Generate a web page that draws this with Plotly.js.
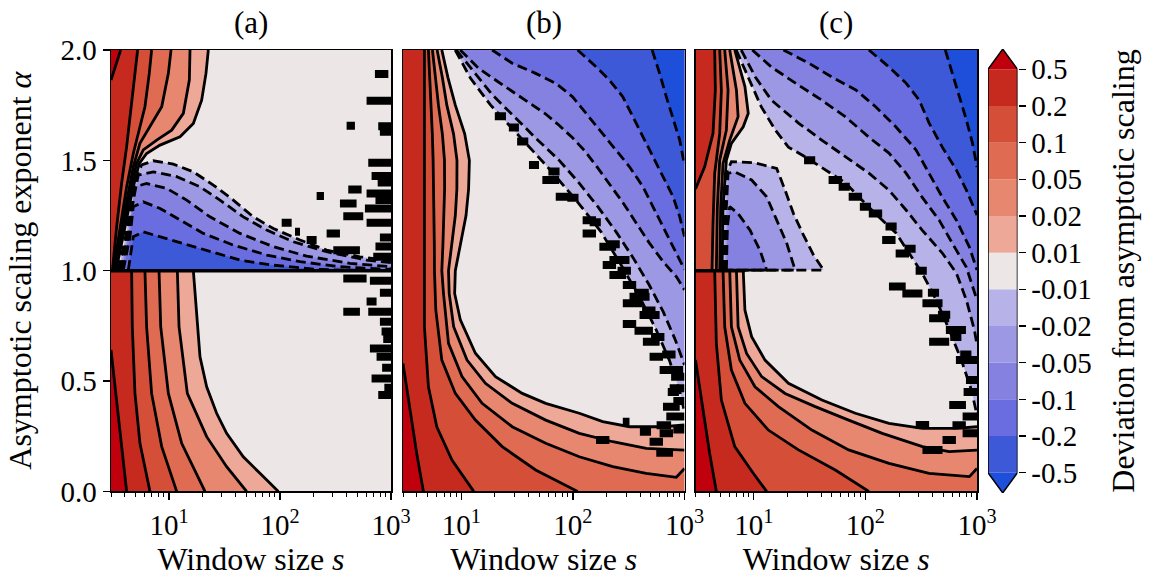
<!DOCTYPE html>
<html>
<head>
<meta charset="utf-8">
<script src="https://cdn.plot.ly/plotly-3.0.1.min.js"></script>
<style>
  html, body { margin: 0; padding: 0; background: #ffffff; }
  #chart { width: 1156px; height: 581px; }
</style>
</head>
<body>
<div id="chart"></div>
<script>
// Deviation from asymptotic scaling over window size s and exponent alpha.
// Contour vertices are stored as [log10 s, alpha].

// ---- colour levels ----
const levelLabels = ['-0.5', '-0.2', '-0.1', '-0.05', '-0.02', '-0.01', '0.01', '0.02', '0.05', '0.1', '0.2', '0.5'];
const posColors = ['#eda897', '#e8876f', '#e06b53', '#d54f38', '#c6291e', '#c0000c']; // beyond +0.01 ... beyond +0.5
const negColors = ['#b7b3e8', '#9c98e3', '#8481e0', '#6a6ddf', '#3e59d8', '#1d4fdb']; // beyond -0.01 ... beyond -0.5
const neutralColor = '#ece6e7';

// ---- panel (a) ----
const aUp001 = [[1.354,2.0],[1.333,1.894],[1.294,1.773],[1.219,1.667],[1.099,1.607],[0.919,1.569],[0.798,1.531],[0.732,1.486],[0.678,1.380],[0.618,1.229],[0.564,1.093],[0.522,1.0]];
const aUp002 = [[1.189,2.0],[1.183,1.864],[1.129,1.713],[1.024,1.637],[0.889,1.592],[0.768,1.547],[0.708,1.486],[0.654,1.365],[0.594,1.199],[0.543,1.078],[0.510,1.0]];
const aUp005 = [[1.018,2.0],[0.994,1.894],[0.934,1.743],[0.828,1.652],[0.738,1.577],[0.678,1.471],[0.618,1.320],[0.552,1.139],[0.505,1.0]];
const aUp01  = [[0.843,2.0],[0.822,1.894],[0.783,1.743],[0.723,1.622],[0.678,1.531],[0.618,1.380],[0.558,1.199],[0.498,1.0]];
const aUp02  = [[0.717,2.0],[0.693,1.894],[0.663,1.743],[0.618,1.562],[0.573,1.396],[0.528,1.199],[0.490,1.0]];
const aUp05  = [[0.564,2.0],[0.528,1.939],[0.477,1.864]];

const aLo001 = [[1.219,1.0],[1.234,0.897],[1.255,0.746],[1.279,0.610],[1.339,0.474],[1.429,0.354],[1.519,0.263],[1.669,0.157],[1.819,0.082],[1.985,0.0]];
const aLo002 = [[1.075,1.0],[1.090,0.746],[1.165,0.444],[1.339,0.248],[1.519,0.112],[1.699,0.0]];
const aLo005 = [[0.910,1.0],[0.925,0.746],[0.994,0.444],[1.114,0.218],[1.324,0.0]];
const aLo01  = [[0.783,1.0],[0.798,0.746],[0.843,0.444],[0.934,0.203],[1.069,0.0]];
const aLo02  = [[0.663,1.0],[0.669,0.746],[0.693,0.444],[0.738,0.218],[0.828,0.0]];
const aLo05  = [[0.477,0.641],[0.528,0.414],[0.573,0.203],[0.618,0.0]];

const aNeg001 = [[0.543,1.003],[0.603,1.139],[0.663,1.305],[0.708,1.426],[0.753,1.479],[0.858,1.498],[1.039,1.483],[1.219,1.448],[1.399,1.388],[1.579,1.320],[1.759,1.244],[1.940,1.191],[2.180,1.139],[2.420,1.093],[2.720,1.063],[3.0,1.045],[3.0,1.0]];
const aNeg002 = [[0.558,1.003],[0.618,1.139],[0.678,1.320],[0.723,1.433],[0.858,1.448],[1.069,1.426],[1.279,1.380],[1.459,1.320],[1.669,1.244],[1.880,1.184],[2.120,1.131],[2.420,1.086],[2.780,1.048],[3.0,1.036],[3.0,1.0]];
const aNeg005 = [[0.573,1.003],[0.633,1.154],[0.693,1.380],[0.798,1.395],[0.979,1.373],[1.159,1.320],[1.369,1.244],[1.639,1.169],[1.940,1.109],[2.240,1.066],[2.630,1.033],[3.0,1.018],[3.0,1.0]];
const aNeg01  = [[0.588,1.003],[0.648,1.154],[0.678,1.290],[0.768,1.312],[0.919,1.282],[1.099,1.229],[1.309,1.169],[1.579,1.116],[1.880,1.071],[2.180,1.041],[2.540,1.018],[3.0,1.006],[3.0,1.0]];
const aNeg02  = [[0.633,1.003],[0.678,1.154],[0.768,1.176],[0.919,1.154],[1.129,1.124],[1.369,1.086],[1.639,1.048],[1.940,1.025],[2.330,1.006],[2.780,1.0]];
const aSeam = [[0.477,1.0],[3.0,1.0]];

// isolated islands near the noise floor: [log10 s start, log10 s end, alpha]
const aSpeckles = [[2.855,2.976,1.891],[2.780,3.0,1.770],[2.600,2.675,1.657],[2.885,3.0,1.655],[2.900,3.0,1.630],[2.795,3.0,1.489],[2.825,3.0,1.429],[2.615,2.735,1.368],[2.780,3.0,1.350],[2.330,2.396,1.338],[2.540,2.690,1.305],[2.765,3.0,1.282],[2.570,2.750,1.247],[2.780,3.0,1.217],[2.420,2.540,1.169],[2.135,2.180,1.176],[2.015,2.105,1.217],[2.240,2.330,1.139],[2.480,2.720,1.093],[2.840,3.0,1.063],[2.880,3.0,1.40],[2.860,3.0,1.32],[2.900,3.0,1.15],[2.860,3.0,1.11],[2.570,2.780,0.965],[2.810,3.0,0.955],[2.900,3.0,0.900],[2.780,2.870,0.860],[2.570,2.720,0.814],[2.795,3.0,0.814],[2.900,3.0,0.769],[2.915,3.0,0.724],[2.930,3.0,0.690],[2.810,3.0,0.648],[2.870,3.0,0.610],[2.920,3.0,0.560],[2.825,3.0,0.512],[2.885,3.0,0.437],[2.940,3.0,0.470]];

// ---- panel (b) ----
const bPos001 = [[0.825,2.0],[0.880,1.875],[0.946,1.75],[1.030,1.62],[1.072,1.5],[1.065,1.37],[1.042,1.25],[0.990,1.12],[0.946,1.0],[0.940,0.897],[0.991,0.777],[1.126,0.626],[1.306,0.520],[1.546,0.444],[1.756,0.399],[2.057,0.354],[2.267,0.316],[2.507,0.293],[2.807,0.293],[3.0,0.301]];
const bPos002 = [[0.783,2.0],[0.830,1.875],[0.870,1.75],[0.930,1.62],[0.961,1.5],[0.960,1.37],[0.946,1.25],[0.915,1.12],[0.885,1.0],[0.891,0.897],[0.931,0.746],[1.051,0.595],[1.216,0.490],[1.456,0.399],[1.756,0.323],[2.057,0.263],[2.357,0.225],[2.657,0.195],[3.0,0.187]];
const bPos005 = [[0.741,2.0],[0.768,1.875],[0.795,1.75],[0.830,1.62],[0.849,1.5],[0.850,1.37],[0.846,1.25],[0.835,1.12],[0.825,1.0],[0.840,0.897],[0.885,0.671],[1.006,0.520],[1.186,0.399],[1.456,0.293],[1.756,0.218],[2.057,0.157],[2.357,0.112],[2.657,0.082],[2.927,0.064],[3.0,0.104]];
const bPos01  = [[0.705,2.0],[0.718,1.875],[0.729,1.75],[0.740,1.62],[0.747,1.5],[0.752,1.37],[0.756,1.25],[0.758,1.12],[0.759,1.0],[0.771,0.822],[0.825,0.595],[0.946,0.444],[1.126,0.323],[1.366,0.203],[1.666,0.097],[2.042,0.0]];
const bPos02  = [[0.669,2.0],[0.669,1.592],[0.663,1.139],[0.663,1.0],[0.669,0.746],[0.705,0.474],[0.780,0.293],[0.916,0.142],[1.111,0.0]];
const bPos05  = [[0.477,0.580],[0.540,0.369],[0.600,0.172],[0.660,0.0]];

const bNeg001 = [[0.945,2.0],[1.081,1.873],[1.261,1.751],[1.486,1.629],[1.757,1.479],[2.027,1.321],[2.252,1.176],[2.432,1.026],[2.612,0.867],[2.747,0.731],[2.864,0.595],[2.955,0.459],[3.0,0.360]];
const bNeg002 = [[0.955,2.0],[1.099,1.909],[1.279,1.796],[1.459,1.706],[1.666,1.601],[1.873,1.502],[2.054,1.398],[2.225,1.289],[2.387,1.176],[2.540,1.058],[2.684,0.935],[2.810,0.813],[2.918,0.686],[3.0,0.573]];
const bNeg005 = [[0.990,2.0],[1.153,1.918],[1.306,1.864],[1.459,1.810],[1.621,1.756],[1.756,1.710],[1.873,1.660],[1.999,1.601],[2.108,1.542],[2.216,1.470],[2.324,1.393],[2.450,1.307],[2.567,1.216],[2.684,1.126],[2.810,1.040],[2.928,0.972],[3.0,0.913]];
const bNeg01  = [[1.276,2.0],[1.456,1.940],[1.666,1.894],[1.846,1.849],[1.997,1.788],[2.117,1.713],[2.267,1.623],[2.387,1.547],[2.507,1.471],[2.627,1.381],[2.718,1.290],[2.808,1.199],[2.898,1.109],[2.988,1.018],[3.0,1.005]];
const bNeg02  = [[2.042,2.0],[2.207,1.924],[2.327,1.864],[2.447,1.788],[2.537,1.698],[2.627,1.607],[2.718,1.517],[2.808,1.426],[2.898,1.335],[2.957,1.245],[3.0,1.154]];
const bNeg05  = [[2.710,2.0],[2.777,1.894],[2.837,1.788],[2.898,1.683],[2.957,1.592],[3.0,1.479]];

const bSpeckles = [[1.300,1.400,1.700],[1.426,1.516,1.649],[1.500,1.600,1.585],[1.606,1.696,1.479],[1.726,1.876,1.411],[1.780,1.880,1.450],[1.846,1.966,1.335],[1.950,2.050,1.330],[2.087,2.207,1.229],[2.150,2.250,1.220],[2.087,2.207,1.169],[2.300,2.420,1.120],[2.237,2.387,1.108],[2.327,2.507,1.048],[2.400,2.520,1.000],[2.267,2.387,1.026],[2.327,2.477,0.980],[2.447,2.567,0.935],[2.550,2.680,0.900],[2.507,2.687,0.882],[2.447,2.627,0.852],[2.620,2.740,0.820],[2.597,2.777,0.799],[2.447,2.567,0.758],[2.552,2.717,0.728],[2.700,2.820,0.700],[2.627,2.777,0.678],[2.800,2.920,0.620],[2.687,2.807,0.610],[2.777,2.987,0.550],[2.880,3.0,0.520],[2.867,3.0,0.467],[2.850,2.950,0.450],[2.900,3.0,0.410],[2.807,2.957,0.384],[2.837,3.0,0.339],[2.750,2.880,0.300],[2.900,3.0,0.280],[2.600,2.700,0.270],[2.777,2.897,0.263],[2.687,2.807,0.225],[2.747,2.897,0.175],[2.207,2.327,0.233],[2.447,2.507,0.316]];

// ---- panel (c) ----
const cUp001 = [[0.829,2.0],[0.920,1.834],[0.950,1.713],[0.905,1.652],[0.799,1.577],[0.754,1.501],[0.724,1.290],[0.715,1.0]];
const cUp002 = [[0.784,2.0],[0.844,1.818],[0.859,1.698],[0.784,1.592],[0.724,1.486],[0.703,1.290],[0.694,1.0]];
const cUp005 = [[0.739,2.0],[0.769,1.818],[0.754,1.637],[0.694,1.501],[0.673,1.290],[0.664,1.0]];
const cUp01  = [[0.694,2.0],[0.709,1.818],[0.694,1.622],[0.649,1.441],[0.634,1.214],[0.625,1.0]];
const cUp02  = [[0.649,2.0],[0.655,1.818],[0.634,1.622],[0.559,1.471],[0.477,1.370]];

const cLo001 = [[0.905,1.0],[0.920,0.822],[0.980,0.701],[1.100,0.595],[1.310,0.490],[1.610,0.414],[1.910,0.354],[2.211,0.308],[2.511,0.286],[2.811,0.286],[3.0,0.293]];
const cLo002 = [[0.844,1.0],[0.859,0.746],[0.935,0.625],[1.070,0.520],[1.280,0.444],[1.550,0.384],[1.850,0.323],[2.151,0.263],[2.511,0.203],[2.751,0.180],[3.0,0.187]];
const cLo005 = [[0.784,1.0],[0.799,0.746],[0.874,0.595],[1.010,0.474],[1.220,0.384],[1.520,0.278],[1.850,0.188],[2.211,0.127],[2.571,0.082],[2.932,0.067],[3.0,0.104]];
const cLo01  = [[0.724,1.0],[0.739,0.746],[0.799,0.550],[0.920,0.399],[1.130,0.278],[1.400,0.188],[1.730,0.097],[2.031,0.0]];
const cLo02  = [[0.649,1.0],[0.664,0.671],[0.709,0.414],[0.829,0.203],[0.995,0.082],[1.115,0.0]];
const cLo05  = [[0.477,0.595],[0.544,0.369],[0.604,0.172],[0.664,0.0]];

const cLobe001 = [[0.724,1.003],[0.739,1.290],[0.754,1.441],[0.799,1.494],[1.010,1.489],[1.205,1.463],[1.280,1.365],[1.355,1.259],[1.445,1.161],[1.535,1.071],[1.625,1.003]];
const cLobe002 = [[0.739,1.003],[0.754,1.290],[0.769,1.441],[0.829,1.448],[0.980,1.411],[1.115,1.335],[1.205,1.229],[1.295,1.124],[1.370,1.003]];
const cLobe005 = [[0.754,1.003],[0.763,1.199],[0.784,1.290],[0.859,1.259],[0.965,1.184],[1.055,1.093],[1.115,1.003]];
const cSeam = [[0.477,1.0],[0.920,1.0]];

const cNeg001 = [[0.842,2.0],[0.950,1.878],[1.067,1.742],[1.193,1.637],[1.310,1.560],[1.463,1.515],[1.643,1.456],[1.824,1.397],[1.968,1.320],[2.121,1.243],[2.274,1.171],[2.391,1.080],[2.508,0.989],[2.635,0.867],[2.752,0.731],[2.860,0.595],[2.950,0.459],[3.0,0.346]];
const cNeg002 = [[0.887,2.0],[1.013,1.878],[1.157,1.773],[1.400,1.669],[1.608,1.592],[1.824,1.515],[2.031,1.442],[2.211,1.365],[2.364,1.275],[2.508,1.184],[2.689,1.080],[2.815,0.989],[2.905,0.867],[2.977,0.731],[3.0,0.663]];
const cNeg005 = [[0.986,2.0],[1.157,1.923],[1.373,1.850],[1.608,1.773],[1.824,1.696],[2.031,1.605],[2.211,1.533],[2.364,1.442],[2.508,1.333],[2.661,1.229],[2.779,1.124],[2.905,1.015],[3.0,0.867]];
const cNeg01  = [[1.265,2.0],[1.490,1.941],[1.697,1.878],[1.914,1.819],[2.094,1.742],[2.274,1.651],[2.454,1.547],[2.572,1.442],[2.689,1.333],[2.815,1.229],[2.932,1.107],[3.0,1.003]];
const cNeg02  = [[2.031,2.0],[2.211,1.923],[2.364,1.850],[2.482,1.773],[2.571,1.669],[2.689,1.560],[2.815,1.456],[2.905,1.365],[3.0,1.252]];
const cNeg05  = [[2.716,2.0],[2.779,1.896],[2.842,1.787],[2.905,1.683],[2.959,1.579],[3.0,1.470]];

const cSpeckles = [[1.450,1.550,1.500],[1.670,1.790,1.411],[1.760,1.860,1.380],[1.850,1.970,1.335],[1.950,2.050,1.290],[2.030,2.150,1.259],[2.150,2.270,1.139],[2.180,2.280,1.200],[2.271,2.391,1.078],[2.350,2.450,1.100],[2.211,2.361,0.928],[2.450,2.550,1.000],[2.331,2.511,0.897],[2.511,2.691,0.852],[2.560,2.660,0.900],[2.571,2.751,0.784],[2.650,2.760,0.800],[2.571,2.751,0.678],[2.721,2.901,0.731],[2.760,2.860,0.700],[2.811,3.0,0.595],[2.850,2.950,0.620],[2.901,3.0,0.505],[2.880,3.0,0.450],[2.751,2.901,0.391],[2.871,3.0,0.339],[2.451,2.571,0.301],[2.691,2.811,0.233],[2.511,2.691,0.188],[2.871,3.0,0.263],[2.780,2.900,0.300]];

// ---- axes ----
const L = Math.log10(3), R = 3;           // log10 of the window-size range
const majorTicks = [10, 100, 1000];
const majorText = ['10<sup>1</sup>', '10<sup>2</sup>', '10<sup>3</sup>'];
const minorTicks = [3,4,5,6,7,8,9,20,30,40,50,60,70,80,90,200,300,400,500,600,700,800,900];
const alphaTicks = [0, 0.5, 1.0, 1.5, 2.0];
const panelTitles = ['(a)', '(b)', '(c)'];

const FONT = 'Liberation Serif, Times New Roman, serif';
const traces = [];
const AX = { a: ['x', 'y'], b: ['x2', 'y2'], c: ['x3', 'y3'] };

function xs(pts) { return pts.map(p => Math.pow(10, p[0])); }
function ys(pts) { return pts.map(p => p[1]); }

function addFill(panel, pts, color) {
  traces.push({
    type: 'scatter', mode: 'lines', x: xs(pts), y: ys(pts),
    xaxis: AX[panel][0], yaxis: AX[panel][1],
    fill: 'toself', fillcolor: color, line: { width: 0, color: color },
    hoverinfo: 'skip', showlegend: false
  });
}
function addLine(panel, pts, dashed, width) {
  traces.push({
    type: 'scatter', mode: 'lines', x: xs(pts), y: ys(pts),
    xaxis: AX[panel][0], yaxis: AX[panel][1],
    line: { color: '#000000', width: width || 2.8, dash: dashed ? '10px,5px' : 'solid' },
    hoverinfo: 'skip', showlegend: false
  });
}
function addSpeckles(panel, list) {
  const x = [], y = [];
  list.forEach(([s0, s1, a]) => { x.push(Math.pow(10, s0), Math.pow(10, s1), null); y.push(a, a, null); });
  traces.push({
    type: 'scatter', mode: 'lines', x: x, y: y, connectgaps: false,
    xaxis: AX[panel][0], yaxis: AX[panel][1],
    line: { color: '#000000', width: 8 }, hoverinfo: 'skip', showlegend: false
  });
}

// panel (a)
addFill('a', [[L,0],[R,0],[R,2],[L,2]], neutralColor);
[aUp001, aUp002, aUp005, aUp01, aUp02].forEach((c, i) => addFill('a', c.concat([[L,1],[L,2]]), posColors[i]));
addFill('a', aUp05.concat([[L,2]]), posColors[5]);
[aLo001, aLo002, aLo005, aLo01, aLo02].forEach((c, i) => addFill('a', c.concat([[L,0],[L,1]]), posColors[i]));
addFill('a', aLo05.concat([[L,0]]), posColors[5]);
[aNeg001, aNeg002, aNeg005, aNeg01, aNeg02].forEach((c, i) => addFill('a', c, negColors[i]));
[aUp001, aUp002, aUp005, aUp01, aUp02, aUp05, aLo001, aLo002, aLo005, aLo01, aLo02, aLo05].forEach(c => addLine('a', c, false));
[aNeg001, aNeg002, aNeg005, aNeg01, aNeg02].forEach(c => addLine('a', c, true));
addLine('a', aSeam, false, 3.5);
addSpeckles('a', aSpeckles);

// panel (b)
addFill('b', [[L,0],[R,0],[R,2],[L,2]], neutralColor);
[bPos001, bPos002, bPos005].forEach((c, i) => addFill('b', c.concat([[R,0],[L,0],[L,2]]), posColors[i]));
[bPos01, bPos02].forEach((c, i) => addFill('b', c.concat([[L,0],[L,2]]), posColors[i + 3]));
addFill('b', bPos05.concat([[L,0]]), posColors[5]);
[bNeg001, bNeg002, bNeg005, bNeg01, bNeg02, bNeg05].forEach((c, i) => addFill('b', c.concat([[R,2]]), negColors[i]));
[bPos001, bPos002, bPos005, bPos01, bPos02, bPos05].forEach(c => addLine('b', c, false));
[bNeg001, bNeg002, bNeg005, bNeg01, bNeg02, bNeg05].forEach(c => addLine('b', c, true));
addSpeckles('b', bSpeckles);

// panel (c)
addFill('c', [[L,0],[R,0],[R,2],[L,2]], neutralColor);
[cUp001, cUp002, cUp005, cUp01].forEach((c, i) => addFill('c', c.concat([[L,1],[L,2]]), posColors[i]));
addFill('c', cUp02.concat([[L,2]]), posColors[4]);
[cLo001, cLo002, cLo005].forEach((c, i) => addFill('c', c.concat([[R,0],[L,0],[L,1]]), posColors[i]));
[cLo01, cLo02].forEach((c, i) => addFill('c', c.concat([[L,0],[L,1]]), posColors[i + 3]));
addFill('c', cLo05.concat([[L,0]]), posColors[5]);
[cLobe001, cLobe002, cLobe005].forEach((c, i) => addFill('c', c, negColors[i]));
[cNeg001, cNeg002, cNeg005, cNeg01, cNeg02, cNeg05].forEach((c, i) => addFill('c', c.concat([[R,2]]), negColors[i]));
[cUp001, cUp002, cUp005, cUp01, cUp02, cLo001, cLo002, cLo005, cLo01, cLo02, cLo05].forEach(c => addLine('c', c, false));
[cLobe001, cLobe002, cLobe005].forEach(c => addLine('c', c.concat([c[0]]), true));
[cNeg001, cNeg002, cNeg005, cNeg01, cNeg02, cNeg05].forEach(c => addLine('c', c, true));
addLine('c', cSeam, false, 3.5);
addSpeckles('c', cSpeckles);

// ---- colour bar (one band per level interval, triangles for the open ends) ----
const bandColors = negColors.slice().reverse().concat([neutralColor], posColors); // lowest -> highest
const EXT = 0.55;
bandColors.forEach((col, k) => {
  const lo = k - 6.5, hi = k - 5.5;
  let px, py;
  if (k === 0) { px = [0, 1, 0.5, 0]; py = [hi, hi, hi - EXT, hi]; }
  else if (k === bandColors.length - 1) { px = [0, 1, 0.5, 0]; py = [lo, lo, lo + EXT, lo]; }
  else { px = [0, 1, 1, 0, 0]; py = [lo, lo, hi, hi, lo]; }
  traces.push({ type: 'scatter', mode: 'lines', x: px, y: py, xaxis: 'x4', yaxis: 'y4',
    fill: 'toself', fillcolor: col, line: { width: 0, color: col }, hoverinfo: 'skip', showlegend: false });
});
traces.push({ type: 'scatter', mode: 'lines', xaxis: 'x4', yaxis: 'y4',
  x: [0, 0, 0.5, 1, 1, 0.5, 0], y: [-5.5, 5.5, 5.5 + EXT, 5.5, -5.5, -5.5 - EXT, -5.5],
  line: { color: '#000000', width: 1.5 }, hoverinfo: 'skip', showlegend: false, cliponaxis: false });

// ---- layout ----
const W = 1156, H = 581;
const yDom = [(H - 491.4) / H, (H - 50) / H];
function xAxis(d0, d1, anchor) {
  return {
    domain: [d0 / W, d1 / W], anchor: anchor, type: 'log', range: [L, R],
    showline: true, mirror: true, linecolor: '#000000', linewidth: 1.5,
    ticks: 'outside', ticklen: 7, tickwidth: 1.3, tickcolor: '#000000',
    tickmode: 'array', tickvals: majorTicks, ticktext: majorText,
    tickfont: { family: FONT, size: 29, color: '#000000' },
    minor: { ticks: 'outside', ticklen: 4, tickwidth: 1, tickcolor: '#000000', tickmode: 'array', tickvals: minorTicks, showgrid: false },
    showgrid: false, zeroline: false, fixedrange: true,
    title: { text: 'Window size <i>s</i>', font: { family: FONT, size: 32, color: '#000000' }, standoff: 0 }
  };
}
function yAxis(anchor, labelled) {
  return {
    domain: yDom, anchor: anchor, range: [0, 2],
    showline: true, mirror: true, linecolor: '#000000', linewidth: 1.5,
    ticks: labelled ? 'outside' : '', ticklen: 7, tickwidth: 1.3, tickcolor: '#000000',
    tickmode: 'array', tickvals: alphaTicks, ticktext: alphaTicks.map(v => v.toFixed(1)),
    showticklabels: labelled,
    tickfont: { family: FONT, size: 29, color: '#000000' },
    showgrid: false, zeroline: false, fixedrange: true,
    title: labelled ? { text: 'Asymptotic scaling exponent <i>α</i>', font: { family: FONT, size: 32, color: '#000000' }, standoff: 19 } : { text: '' }
  };
}

const layout = {
  width: W, height: H,
  margin: { l: 0, r: 0, t: 0, b: 0, pad: 0 },
  paper_bgcolor: '#ffffff', plot_bgcolor: '#ffffff',
  showlegend: false,
  font: { family: FONT, color: '#000000' },
  xaxis: xAxis(111, 391, 'y'),
  xaxis2: xAxis(403, 684.5, 'y2'),
  xaxis3: xAxis(695.5, 977, 'y3'),
  yaxis: yAxis('x', true),
  yaxis2: yAxis('x2', false),
  yaxis3: yAxis('x3', false),
  xaxis4: { domain: [988 / W, 1017.5 / W], anchor: 'y4', range: [0, 1], visible: false, fixedrange: true },
  yaxis4: {
    domain: [(H - 492.9) / H, (H - 49.1) / H], anchor: 'x4', side: 'right', range: [-6.05, 6.05],
    showline: false, showgrid: false, zeroline: false, fixedrange: true,
    ticks: 'outside', ticklen: 7, tickwidth: 1.3, tickcolor: '#000000',
    tickmode: 'array', tickvals: levelLabels.map((_, i) => i - 5.5), ticktext: levelLabels,
    tickfont: { family: FONT, size: 29, color: '#000000' },
    title: { text: 'Deviation from asymptotic scaling', font: { family: FONT, size: 32, color: '#000000' }, standoff: 20 }
  },
  annotations: panelTitles.map((t, i) => ({
    text: t, xref: (i === 0 ? 'x' : 'x' + (i + 1)) + ' domain', yref: 'paper',
    x: 0.5, y: (H - 23) / H, xanchor: 'center', yanchor: 'middle', showarrow: false,
    font: { family: FONT, size: 31, color: '#000000' }
  }))
};

Plotly.newPlot('chart', traces, layout, { displayModeBar: false, staticPlot: true });
</script>
</body>
</html>
